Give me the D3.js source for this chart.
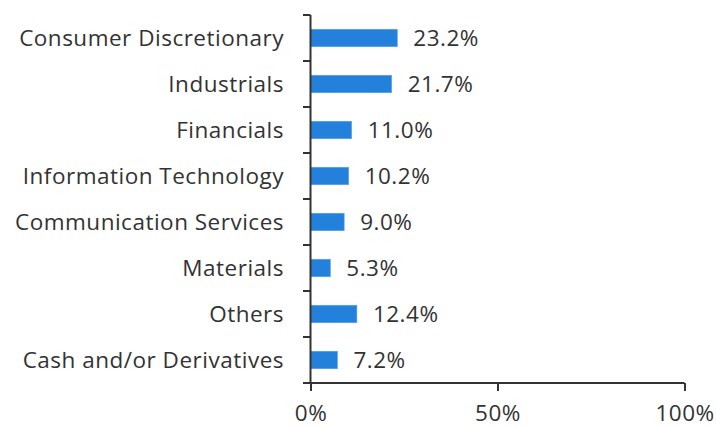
<!DOCTYPE html>
<html>
<head>
<meta charset="utf-8">
<script src="https://cdn.jsdelivr.net/npm/d3@7"></script>
<style>
  body { margin: 0; background: #fff; }
  text { font-family: "Open Sans", sans-serif; fill: #333; letter-spacing: 0.5px; }
</style>
</head>
<body>
<div id="chart"></div>
<script>
// sector weights
var sectors = ["Consumer Discretionary", "Industrials", "Financials", "Information Technology",
               "Communication Services", "Materials", "Others", "Cash and/or Derivatives"];
var weights = [23.2, 21.7, 11.0, 10.2, 9.0, 5.3, 12.4, 7.2];
var xTicks = [0, 50, 100];

var W = 716, H = 427;
var margin = { top: 15, right: 32, bottom: 44, left: 310 };
var width = W - margin.left - margin.right,
    height = H - margin.top - margin.bottom;
var fs = "22.5px";

var svg = d3.select("#chart")
    .append("svg")
    .attr("width", W)
    .attr("height", H)
    .append("g")
    .attr("transform", "translate(" + margin.left + "," + margin.top + ")");

var x = d3.scaleLinear().domain([0, 100]).range([0.5, width + 0.5]);
var y = d3.scaleBand().domain(sectors).range([0, height]).paddingInner(0.62).paddingOuter(0.31);

var data = sectors.map(function (s, i) { return { name: s, value: weights[i] }; });

// bars
svg.selectAll(".bar")
    .data(data)
    .join("rect")
    .attr("class", "bar")
    .attr("x", x(0))
    .attr("y", function (d) { return y(d.name); })
    .attr("width", function (d) { return x(d.value) - x(0); })
    .attr("height", y.bandwidth())
    .attr("fill", "#2481db")
    .attr("stroke", "#5aa0e6")
    .attr("stroke-width", 0.6);

// value labels
svg.selectAll(".val")
    .data(data)
    .join("text")
    .attr("class", "val")
    .attr("x", function (d) { return x(d.value) + 16; })
    .attr("y", function (d) { return y(d.name) + y.bandwidth() / 2; })
    .attr("dy", "0.36em")
    .style("font-size", fs)
    .text(function (d) { return d.value.toFixed(1) + "%"; });

// y axis: ticks at band boundaries
var yAxisG = svg.append("g").attr("class", "yaxis");
yAxisG.append("line")
    .attr("x1", 0.5).attr("x2", 0.5)
    .attr("y1", 0).attr("y2", height)
    .attr("stroke", "#333").attr("stroke-width", 2);
var bounds = sectors.map(function (s) { return y(s) - y.step() * y.paddingInner() / 2; }).concat([height]);
yAxisG.selectAll(".ytick")
    .data(bounds)
    .join("line")
    .attr("x1", -7).attr("x2", 0.5)
    .attr("y1", function (d) { return d; })
    .attr("y2", function (d) { return d; })
    .attr("stroke", "#333").attr("stroke-width", 2);
yAxisG.selectAll(".ylab")
    .data(sectors)
    .join("text")
    .attr("x", -26)
    .attr("y", function (d) { return y(d) + y.bandwidth() / 2; })
    .attr("dy", "0.36em")
    .attr("text-anchor", "end")
    .style("font-size", fs)
    .text(function (d) { return d; });

// x axis
var xAxis = d3.axisBottom(x)
    .tickValues(xTicks)
    .tickFormat(function (d) { return d + "%"; })
    .tickSize(8)
    .tickPadding(14);

var xg = svg.append("g")
    .attr("transform", "translate(0," + height + ")")
    .call(xAxis);
xg.select(".domain").attr("stroke", "#333").attr("stroke-width", 2).attr("d", "M0.5,0H" + (width + 0.5));
xg.selectAll(".tick line").attr("stroke", "#333").attr("stroke-width", 2);
xg.selectAll(".tick text").style("font-size", fs).attr("fill", "#333").style("font-family", "Open Sans, sans-serif");
</script>
</body>
</html>
